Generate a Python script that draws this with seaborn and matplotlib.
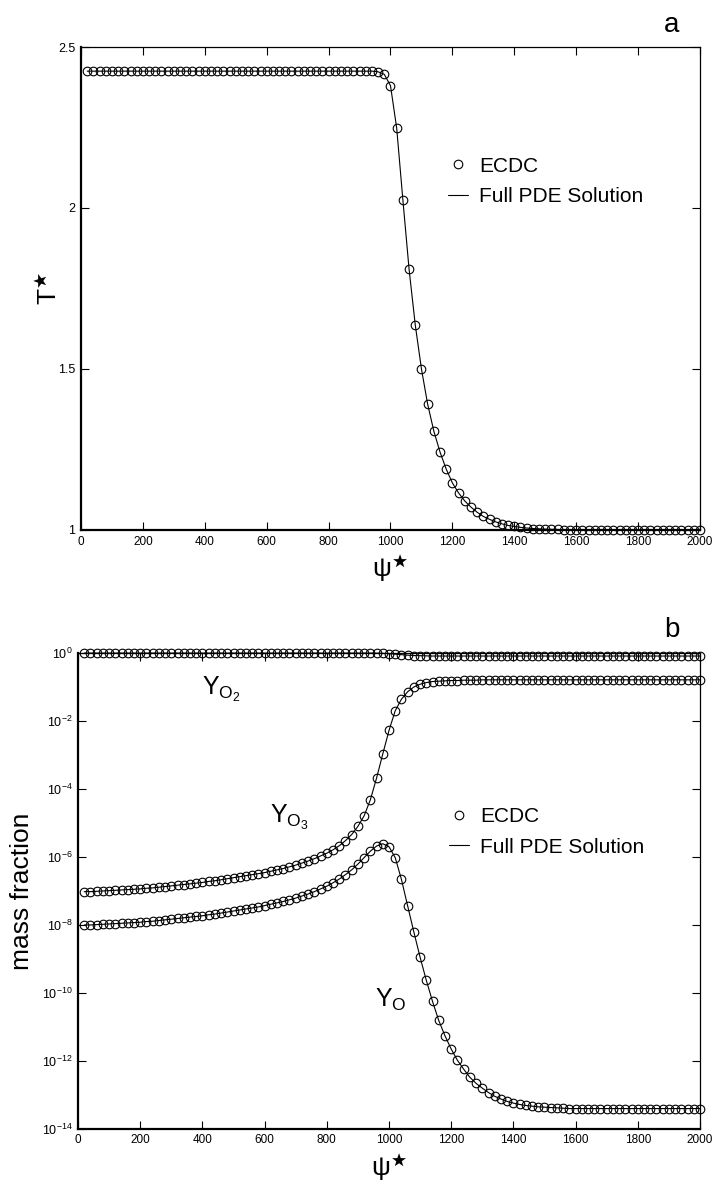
import numpy as np
import pandas as pd
import matplotlib
matplotlib.use("Agg")
import matplotlib.pyplot as plt
from matplotlib.lines import Line2D
from matplotlib.ticker import NullLocator
import seaborn as sns

# ---------------- data ----------------
psi = [20, 40, 60, 80, 100, 120, 140, 160, 180, 200,
       220, 240, 260, 280, 300, 320, 340, 360, 380, 400,
       420, 440, 460, 480, 500, 520, 540, 560, 580, 600,
       620, 640, 660, 680, 700, 720, 740, 760, 780, 800,
       820, 840, 860, 880, 900, 920, 940, 960, 980, 1000,
       1020, 1040, 1060, 1080, 1100, 1120, 1140, 1160, 1180, 1200,
       1220, 1240, 1260, 1280, 1300, 1320, 1340, 1360, 1380, 1400,
       1420, 1440, 1460, 1480, 1500, 1520, 1540, 1560, 1580, 1600,
       1620, 1640, 1660, 1680, 1700, 1720, 1740, 1760, 1780, 1800,
       1820, 1840, 1860, 1880, 1900, 1920, 1940, 1960, 1980, 2000]

temperature = ([2.425] * 47 +
               [2.423, 2.415, 2.38, 2.248, 2.025, 1.81, 1.637, 1.50, 1.391, 1.307,
                1.242, 1.189, 1.146, 1.115, 1.09, 1.071, 1.055, 1.042, 1.033, 1.025,
                1.019, 1.014, 1.011, 1.008, 1.006, 1.0045, 1.0035, 1.0025, 1.002, 1.0015,
                1.001, 1.001] +
               [1.0005] * 21)

# mass fractions, read as log10 values from the log axis
log10_y_o2 = ([-0.003] * 47 +
              [-0.005, -0.01, -0.02, -0.035, -0.05, -0.065, -0.075, -0.08, -0.085] +
              [-0.09] * 44)

log10_y_o3 = ([-7.02, -7.02, -7.01, -7.00, -6.99, -6.98, -6.97, -6.96, -6.95, -6.94,
               -6.92, -6.91, -6.89, -6.87, -6.85, -6.83, -6.81, -6.79, -6.77, -6.75,
               -6.72, -6.70, -6.67, -6.64, -6.61, -6.58, -6.55, -6.52, -6.49, -6.46,
               -6.42, -6.38, -6.34, -6.29, -6.24, -6.18, -6.12, -6.05, -5.97, -5.89,
               -5.79, -5.67, -5.52, -5.34, -5.10, -4.79, -4.32, -3.68, -2.97, -2.28,
               -1.70, -1.36, -1.14, -1.00, -0.92, -0.87, -0.84, -0.83, -0.82, -0.81,
               -0.81, -0.80, -0.80, -0.80] +
              [-0.79] * 36)

log10_y_o = ([-8.00, -8.00, -7.99, -7.98, -7.97, -7.96, -7.95, -7.94, -7.93, -7.92,
              -7.90, -7.89, -7.87, -7.85, -7.83, -7.81, -7.79, -7.77, -7.75, -7.73,
              -7.70, -7.68, -7.65, -7.62, -7.59, -7.56, -7.53, -7.50, -7.47, -7.43,
              -7.39, -7.35, -7.31, -7.26, -7.21, -7.15, -7.09, -7.02, -6.94, -6.86,
              -6.76, -6.65, -6.52, -6.38, -6.21, -6.02, -5.83, -5.68, -5.61, -5.70,
              -6.02, -6.66, -7.44, -8.21, -8.95, -9.63, -10.25, -10.81, -11.26, -11.65,
              -11.98, -12.24, -12.48, -12.66, -12.80, -12.93, -13.04, -13.12, -13.19, -13.24,
              -13.28, -13.31, -13.33, -13.35, -13.36, -13.37, -13.38, -13.39] +
             [-13.40] * 22)

x_ticks = [0, 200, 400, 600, 800, 1000, 1200, 1400, 1600, 1800, 2000]
t_ticks = [1, 1.5, 2, 2.5]
t_tick_labels = ["1", "1.5", "2", "2.5"]
log_tick_exps = [0, -2, -4, -6, -8, -10, -12, -14]
legend_labels = ["ECDC", "Full PDE Solution"]

# ---------------- style ----------------
sns.set_style("ticks")
plt.rcParams["font.family"] = ["Liberation Sans", "DejaVu Sans"]
plt.rcParams["mathtext.fontset"] = "custom"
plt.rcParams["mathtext.rm"] = "Liberation Sans"
plt.rcParams["mathtext.it"] = "Liberation Sans"
plt.rcParams["mathtext.bf"] = "Liberation Sans:bold"
for key in ["text.color", "axes.labelcolor", "xtick.color", "ytick.color",
            "axes.edgecolor"]:
    plt.rcParams[key] = "black"

fig = plt.figure(figsize=(7.15, 11.84), dpi=100)
ax1 = fig.add_axes([0.1133, 0.5524, 0.8657, 0.4079])
ax2 = fig.add_axes([0.1091, 0.0465, 0.8699, 0.4020])

df_t = pd.DataFrame({"psi": psi, "T": temperature})
df_m = pd.DataFrame({"psi": psi,
                     "O2": 10 ** np.array(log10_y_o2),
                     "O3": 10 ** np.array(log10_y_o3),
                     "O": 10 ** np.array(log10_y_o)})

line_kw = dict(color="black", linewidth=0.8, estimator=None, sort=False)
mark_kw = dict(color="black", linestyle="none", marker="o", markersize=6.2,
               markerfacecolor="none", markeredgecolor="black",
               markeredgewidth=0.8, estimator=None, sort=False)

# top panel
sns.lineplot(data=df_t, x="psi", y="T", ax=ax1, **line_kw)
sns.lineplot(data=df_t, x="psi", y="T", ax=ax1, **mark_kw)

# bottom panel
ax2.set_yscale("log")
for col in ["O2", "O3", "O"]:
    sns.lineplot(data=df_m, x="psi", y=col, ax=ax2, **line_kw)
    sns.lineplot(data=df_m, x="psi", y=col, ax=ax2, **mark_kw)

for ax in (ax1, ax2):
    for ln in ax.lines:
        ln.set_clip_on(False)
    ax.set_xlim(0, 2000)
    ax.set_xticks(x_ticks)
    ax.set_xticklabels([str(v) for v in x_ticks], fontsize=8.5)
    ax.tick_params(direction="in", top=True, right=True, length=6, width=0.8,
                   pad=4, colors="black")
    ax.spines["left"].set_linewidth(1.6)
    ax.spines["bottom"].set_linewidth(1.6)
    ax.spines["top"].set_linewidth(0.9)
    ax.spines["right"].set_linewidth(0.9)
    for s in ax.spines.values():
        s.set_color("black")
    ax.set_xlabel("ψ$^{\\bigstar}$", fontsize=19, labelpad=4)
    handles = [Line2D([], [], linestyle="none", marker="o", markersize=6.2,
                      markerfacecolor="none", markeredgecolor="black",
                      markeredgewidth=0.8),
               Line2D([], [], color="black", linewidth=0.8)]
    ax.legend(handles, legend_labels, frameon=False, fontsize=15,
              handlelength=0.97, handletextpad=0.55, labelspacing=0.55,
              loc="center left")

ax1.set_ylim(1, 2.5)
ax1.set_yticks(t_ticks)
ax1.set_yticklabels(t_tick_labels, fontsize=9)
ax1.set_ylabel("T$^{\\bigstar}$", fontsize=19, labelpad=-3)
ax1.legend_.set_bbox_to_anchor((0.562, 0.722), transform=ax1.transAxes)

ax2.set_ylim(1e-14, 1e0)
ax2.set_yticks([10.0 ** e for e in log_tick_exps])
ax2.set_yticklabels([f"$\\mathregular{{10^{{{e}}}}}$" for e in log_tick_exps], fontsize=9)
ax2.yaxis.set_minor_locator(NullLocator())
ax2.set_ylabel("mass fraction", fontsize=19, labelpad=6)
ax2.legend_.set_bbox_to_anchor((0.566, 0.624), transform=ax2.transAxes)

ax2.text(399, 10 ** -1.24, "$\\mathregular{Y_{O_2}}$", fontsize=18, va="baseline")
ax2.text(617, 10 ** -5.0, "$\\mathregular{Y_{O_3}}$", fontsize=18, va="baseline")
ax2.text(955, 10 ** -10.4, "$\\mathregular{Y_{O}}$", fontsize=18, va="baseline")

fig.text(0.939, 0.973, "a", fontsize=20, va="baseline", ha="center")
fig.text(0.940, 0.462, "b", fontsize=20, va="baseline", ha="center")

fig.savefig("out.png", dpi=100)
